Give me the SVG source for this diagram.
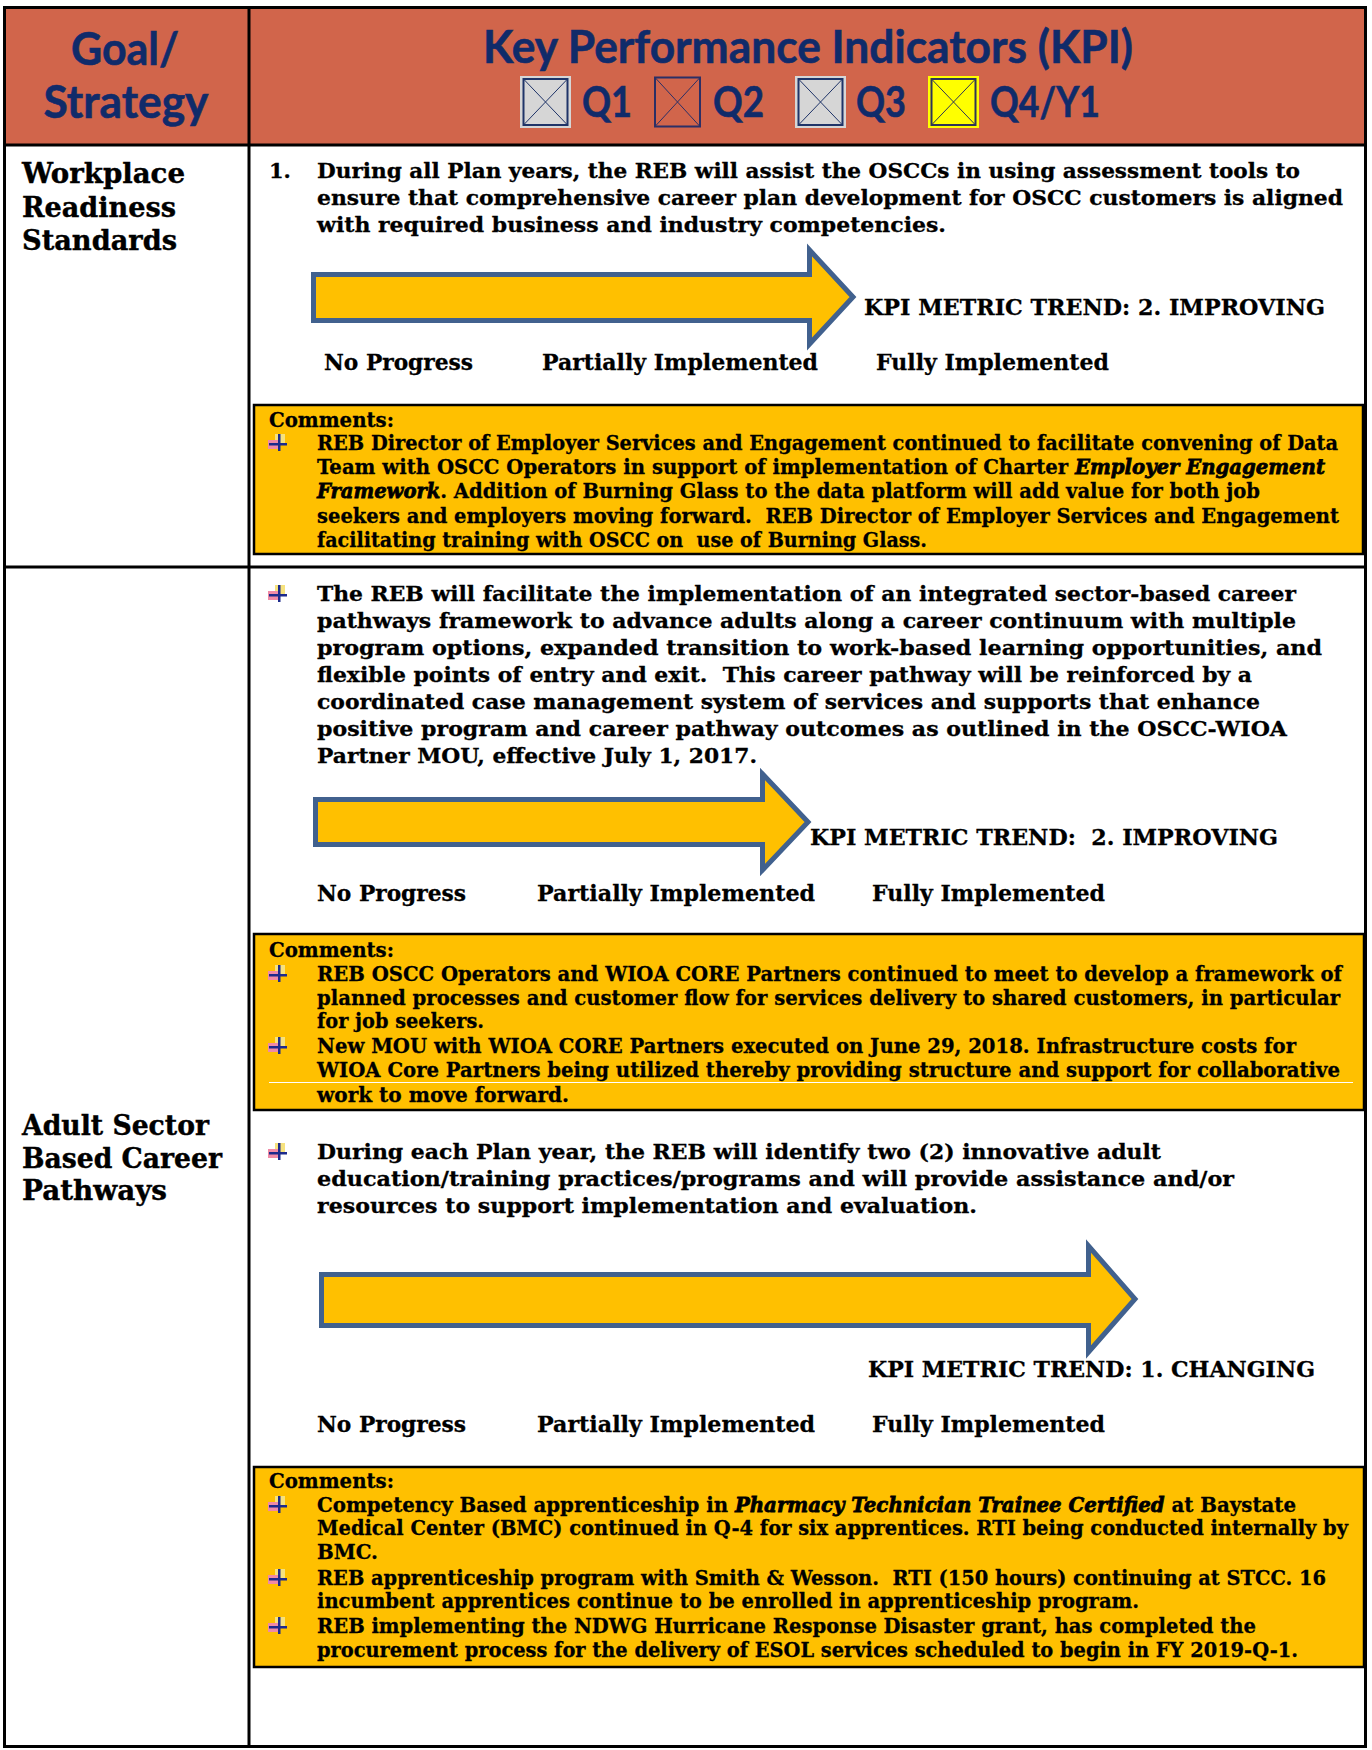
<svg xmlns="http://www.w3.org/2000/svg" width="1372" height="1750" viewBox="0 0 1372 1750">
<style>
text{white-space:pre}
.hd{font-family:Lato,"Open Sans",sans-serif;font-weight:bold;fill:#102B6A;stroke:#102B6A;stroke-width:0.6}
.h1{font-size:46px}
.hq{font-size:42px}
.lbl{font-family:"DejaVu Serif",serif;font-weight:bold;font-size:27px;fill:#000;stroke:#000;stroke-width:0.4}
.t{font-family:"DejaVu Serif",serif;font-weight:bold;font-size:21px;fill:#000;stroke:#000;stroke-width:0.3}
.k{font-family:"DejaVu Serif",serif;font-weight:bold;font-size:23px;fill:#000;stroke:#000;stroke-width:0.3}
.it{font-style:italic;font-weight:bold;stroke-width:0.8}
.arrow{fill:#FFC000;stroke:#41618E;stroke-width:5;stroke-linejoin:miter}
.cbox{fill:#FFC000;stroke:#000;stroke-width:2.5}
.rule{stroke:#000;stroke-width:3;fill:none}
</style>
<defs>
<g id="bul">
<rect x="7" y="0" width="10" height="10" fill="#F6E27E"/>
<rect x="0" y="6" width="10" height="9" fill="#F08AA6"/>
<rect x="1" y="9" width="18" height="2.5" fill="#1C2A8C"/>
<rect x="10" y="0" width="2.5" height="17" fill="#1C2A8C"/>
</g>
</defs>
<rect x="0" y="0" width="1372" height="1750" fill="#fff"/>

<g id="header">
<rect x="4" y="7" width="1362" height="138" fill="#D1654B"/>
<text class="hd h1" x="125" y="65" text-anchor="middle" textLength="108" lengthAdjust="spacingAndGlyphs">Goal/</text>
<text class="hd h1" x="126" y="118" text-anchor="middle" textLength="165" lengthAdjust="spacingAndGlyphs">Strategy</text>
<text class="hd h1" x="483" y="63" textLength="650" lengthAdjust="spacingAndGlyphs">Key Performance Indicators (KPI)</text>
<g id="q1">
<rect x="520" y="76" width="51" height="52" fill="#D6D6D6"/>
<rect x="523.5" y="79" width="44" height="46" fill="none" stroke="#1F3468" stroke-width="2"/>
<path d="M523.5 79 L567.5 125 M567.5 79 L523.5 125" stroke="#1F3468" stroke-width="1"/>
</g>
<text class="hd hq" x="582" y="117" textLength="50" lengthAdjust="spacingAndGlyphs">Q1</text>
<g id="q2">
<rect x="655" y="77.5" width="45" height="49" fill="none" stroke="#2B2F66" stroke-width="2"/>
<path d="M655 77.5 L700 126.5 M700 77.5 L655 126.5" stroke="#2B2F66" stroke-width="1"/>
</g>
<text class="hd hq" x="713" y="117" textLength="51" lengthAdjust="spacingAndGlyphs">Q2</text>
<g id="q3">
<rect x="795" y="76" width="51" height="52" fill="#D6D6D6"/>
<rect x="798.5" y="79" width="44" height="46" fill="none" stroke="#1F3468" stroke-width="2"/>
<path d="M798.5 79 L842.5 125 M842.5 79 L798.5 125" stroke="#1F3468" stroke-width="1"/>
</g>
<text class="hd hq" x="856" y="117" textLength="50" lengthAdjust="spacingAndGlyphs">Q3</text>
<g id="q4">
<rect x="928" y="76" width="51" height="52" fill="#FFFF00"/>
<rect x="931.5" y="79" width="44" height="46" fill="none" stroke="#2E3558" stroke-width="2"/>
<path d="M931.5 79 L975.5 125 M975.5 79 L931.5 125" stroke="#2E3558" stroke-width="1"/>
</g>
<text class="hd hq" x="990" y="117" textLength="110" lengthAdjust="spacingAndGlyphs">Q4/Y1</text>
</g>

<g id="grid">
<rect class="rule" x="4.5" y="7.5" width="1361" height="1739"/>
<line class="rule" x1="249" y1="7" x2="249" y2="1747"/>
<line class="rule" x1="4" y1="145" x2="1366" y2="145"/>
<line class="rule" x1="4" y1="567" x2="1366" y2="567"/>
</g>

<g id="row1-goal">
<text class="lbl" x="22" y="183" textLength="163" lengthAdjust="spacingAndGlyphs">Workplace</text>
<text class="lbl" x="22" y="217" textLength="154" lengthAdjust="spacingAndGlyphs">Readiness</text>
<text class="lbl" x="22" y="250" textLength="155" lengthAdjust="spacingAndGlyphs">Standards</text>
</g>

<g id="row1-kpi">
<text class="t" x="269" y="178">1.</text>
<text class="t" x="317" y="178" textLength="983" lengthAdjust="spacingAndGlyphs">During all Plan years, the REB will assist the OSCCs in using assessment tools to</text>
<text class="t" x="317" y="205" textLength="1026" lengthAdjust="spacingAndGlyphs">ensure that comprehensive career plan development for OSCC customers is aligned</text>
<text class="t" x="317" y="232" textLength="629" lengthAdjust="spacingAndGlyphs">with required business and industry competencies.</text>
<polygon class="arrow" points="313.5,274.5 809.5,274.5 809.5,250 853,297 809.5,344 809.5,320.5 313.5,320.5"/>
<text class="k" x="864" y="315" textLength="461" lengthAdjust="spacingAndGlyphs">KPI METRIC TREND: 2. IMPROVING</text>
<text class="k" x="324" y="370" textLength="149" lengthAdjust="spacingAndGlyphs">No Progress</text>
<text class="k" x="542" y="370" textLength="276" lengthAdjust="spacingAndGlyphs">Partially Implemented</text>
<text class="k" x="876" y="370" textLength="233" lengthAdjust="spacingAndGlyphs">Fully Implemented</text>
</g>

<g id="row1-comments">
<rect class="cbox" x="254" y="405" width="1109" height="149"/>
<text class="t" x="269" y="427" textLength="125" lengthAdjust="spacingAndGlyphs">Comments:</text>
<use href="#bul" x="268" y="434"/>
<text class="t" x="317" y="450" textLength="1021" lengthAdjust="spacingAndGlyphs">REB Director of Employer Services and Engagement continued to facilitate convening of Data</text>
<text class="t" x="317" y="474" textLength="1008" lengthAdjust="spacingAndGlyphs">Team with OSCC Operators in support of implementation of Charter <tspan class="it">Employer Engagement</tspan></text>
<text class="t" x="317" y="498" textLength="943" lengthAdjust="spacingAndGlyphs"><tspan class="it">Framework</tspan>. Addition of Burning Glass to the data platform will add value for both job</text>
<text class="t" x="317" y="523" textLength="1022" lengthAdjust="spacingAndGlyphs">seekers and employers moving forward.  REB Director of Employer Services and Engagement</text>
<text class="t" x="317" y="547" textLength="610" lengthAdjust="spacingAndGlyphs">facilitating training with OSCC on  use of Burning Glass.</text>
</g>

<g id="row2-goal">
<text class="lbl" x="22" y="1135" textLength="187" lengthAdjust="spacingAndGlyphs">Adult Sector</text>
<text class="lbl" x="22" y="1168" textLength="200" lengthAdjust="spacingAndGlyphs">Based Career</text>
<text class="lbl" x="22" y="1200" textLength="145" lengthAdjust="spacingAndGlyphs">Pathways</text>
</g>

<g id="row2-kpi1">
<use href="#bul" x="268" y="585"/>
<text class="t" x="317" y="601" textLength="979" lengthAdjust="spacingAndGlyphs">The REB will facilitate the implementation of an integrated sector-based career</text>
<text class="t" x="317" y="628" textLength="979" lengthAdjust="spacingAndGlyphs">pathways framework to advance adults along a career continuum with multiple</text>
<text class="t" x="317" y="655" textLength="1005" lengthAdjust="spacingAndGlyphs">program options, expanded transition to work-based learning opportunities, and</text>
<text class="t" x="317" y="682" textLength="935" lengthAdjust="spacingAndGlyphs">flexible points of entry and exit.  This career pathway will be reinforced by a</text>
<text class="t" x="317" y="709" textLength="943" lengthAdjust="spacingAndGlyphs">coordinated case management system of services and supports that enhance</text>
<text class="t" x="317" y="736" textLength="970" lengthAdjust="spacingAndGlyphs">positive program and career pathway outcomes as outlined in the OSCC-WIOA</text>
<text class="t" x="317" y="763" textLength="440" lengthAdjust="spacingAndGlyphs">Partner MOU, effective July 1, 2017.</text>
<polygon class="arrow" points="315.5,799.5 762.5,799.5 762.5,774 808,822 762.5,870 762.5,844.5 315.5,844.5"/>
<text class="k" x="810" y="845" textLength="468" lengthAdjust="spacingAndGlyphs">KPI METRIC TREND:  2. IMPROVING</text>
<text class="k" x="317" y="901" textLength="149" lengthAdjust="spacingAndGlyphs">No Progress</text>
<text class="k" x="537" y="901" textLength="278" lengthAdjust="spacingAndGlyphs">Partially Implemented</text>
<text class="k" x="872" y="901" textLength="233" lengthAdjust="spacingAndGlyphs">Fully Implemented</text>
</g>

<g id="row2-comments1">
<rect class="cbox" x="254" y="934" width="1110" height="176"/>
<text class="t" x="269" y="957" textLength="125" lengthAdjust="spacingAndGlyphs">Comments:</text>
<use href="#bul" x="268" y="965"/>
<text class="t" x="317" y="981" textLength="1025" lengthAdjust="spacingAndGlyphs">REB OSCC Operators and WIOA CORE Partners continued to meet to develop a framework of</text>
<text class="t" x="317" y="1005" textLength="1023" lengthAdjust="spacingAndGlyphs">planned processes and customer flow for services delivery to shared customers, in particular</text>
<text class="t" x="317" y="1028" textLength="167" lengthAdjust="spacingAndGlyphs">for job seekers.</text>
<use href="#bul" x="268" y="1037"/>
<text class="t" x="317" y="1053" textLength="979" lengthAdjust="spacingAndGlyphs">New MOU with WIOA CORE Partners executed on June 29, 2018. Infrastructure costs for</text>
<text class="t" x="317" y="1077" textLength="1023" lengthAdjust="spacingAndGlyphs">WIOA Core Partners being utilized thereby providing structure and support for collaborative</text>
<line x1="269" y1="1082.5" x2="1353" y2="1082.5" stroke="#fff" stroke-width="1"/>
<text class="t" x="317" y="1102" textLength="252" lengthAdjust="spacingAndGlyphs">work to move forward.</text>
</g>

<g id="row2-kpi2">
<use href="#bul" x="268" y="1143"/>
<text class="t" x="317" y="1159" textLength="844" lengthAdjust="spacingAndGlyphs">During each Plan year, the REB will identify two (2) innovative adult</text>
<text class="t" x="317" y="1186" textLength="917" lengthAdjust="spacingAndGlyphs">education/training practices/programs and will provide assistance and/or</text>
<text class="t" x="317" y="1213" textLength="660" lengthAdjust="spacingAndGlyphs">resources to support implementation and evaluation.</text>
<polygon class="arrow" points="321.5,1274.5 1088.5,1274.5 1088.5,1246 1135,1299 1088.5,1352 1088.5,1325.5 321.5,1325.5"/>
<text class="k" x="868" y="1377" textLength="447" lengthAdjust="spacingAndGlyphs">KPI METRIC TREND: 1. CHANGING</text>
<text class="k" x="317" y="1432" textLength="149" lengthAdjust="spacingAndGlyphs">No Progress</text>
<text class="k" x="537" y="1432" textLength="278" lengthAdjust="spacingAndGlyphs">Partially Implemented</text>
<text class="k" x="872" y="1432" textLength="233" lengthAdjust="spacingAndGlyphs">Fully Implemented</text>
</g>

<g id="row2-comments2">
<rect class="cbox" x="254" y="1467" width="1110" height="200"/>
<text class="t" x="269" y="1488" textLength="125" lengthAdjust="spacingAndGlyphs">Comments:</text>
<use href="#bul" x="268" y="1496"/>
<text class="t" x="317" y="1512" textLength="979" lengthAdjust="spacingAndGlyphs">Competency Based apprenticeship in <tspan class="it">Pharmacy Technician Trainee Certified</tspan> at Baystate</text>
<text class="t" x="317" y="1535" textLength="1031" lengthAdjust="spacingAndGlyphs">Medical Center (BMC) continued in Q-4 for six apprentices. RTI being conducted internally by</text>
<text class="t" x="317" y="1559" textLength="61" lengthAdjust="spacingAndGlyphs">BMC.</text>
<use href="#bul" x="268" y="1569"/>
<text class="t" x="317" y="1585" textLength="1009" lengthAdjust="spacingAndGlyphs">REB apprenticeship program with Smith &amp; Wesson.  RTI (150 hours) continuing at STCC. 16</text>
<text class="t" x="317" y="1608" textLength="822" lengthAdjust="spacingAndGlyphs">incumbent apprentices continue to be enrolled in apprenticeship program.</text>
<use href="#bul" x="268" y="1617"/>
<text class="t" x="317" y="1633" textLength="939" lengthAdjust="spacingAndGlyphs">REB implementing the NDWG Hurricane Response Disaster grant, has completed the</text>
<text class="t" x="317" y="1657" textLength="981" lengthAdjust="spacingAndGlyphs">procurement process for the delivery of ESOL services scheduled to begin in FY 2019-Q-1.</text>
</g>
</svg>
